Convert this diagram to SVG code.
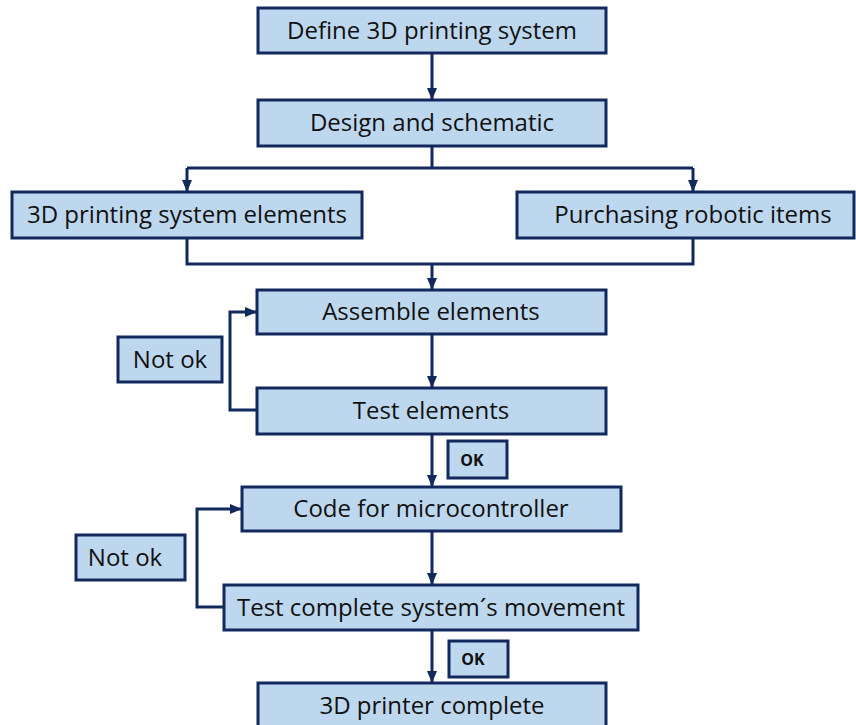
<svg xmlns="http://www.w3.org/2000/svg" width="856" height="725" viewBox="0 0 856 725">
<style>
.box{fill:#BDD7EE;stroke:#12295E;stroke-width:3}
.t{font-family:"Open Sans","Noto Sans",sans-serif;font-size:24px;fill:#111;text-anchor:middle}
.ok{font-family:"Open Sans","Liberation Sans",sans-serif;font-size:16px;font-weight:bold;fill:#111;text-anchor:middle}
.c{fill:none;stroke:#12295E;stroke-width:3}
</style>
<defs>
<marker id="ah" markerUnits="userSpaceOnUse" markerWidth="12" markerHeight="12" refX="12" refY="5" orient="auto" viewBox="0 0 12 10">
<path d="M0,0 L12,5 L0,10 z" fill="#12295E"/>
</marker>
</defs>
<g id="connectors">
<path class="c" d="M432,53 V100" marker-end="url(#ah)"/>
<path class="c" d="M432,146 V168"/>
<path class="c" d="M187,168 H693"/>
<path class="c" d="M187,168 V192" marker-end="url(#ah)"/>
<path class="c" d="M693,168 V192" marker-end="url(#ah)"/>
<path class="c" d="M187,238 V264 H693 V238"/>
<path class="c" d="M432,264 V290" marker-end="url(#ah)"/>
<path class="c" d="M432,334 V388" marker-end="url(#ah)"/>
<path class="c" d="M257,410 H230 V312 H257" marker-end="url(#ah)"/>
<path class="c" d="M432,434 V487" marker-end="url(#ah)"/>
<path class="c" d="M432,531 V585" marker-end="url(#ah)"/>
<path class="c" d="M224,607 H197 V509 H242" marker-end="url(#ah)"/>
<path class="c" d="M432,630 V683" marker-end="url(#ah)"/>
</g>
<g id="n1"><rect class="box" x="258" y="8" width="348" height="45"/><text class="t" x="432" y="39">Define 3D printing system</text></g>
<g id="n2"><rect class="box" x="258" y="100" width="348" height="46"/><text class="t" x="432" y="131">Design and schematic</text></g>
<g id="n3"><rect class="box" x="12" y="192" width="350" height="46"/><text class="t" x="187" y="223">3D printing system elements</text></g>
<g id="n4"><rect class="box" x="517" y="192" width="337" height="46"/><text class="t" x="693" y="223">Purchasing robotic items</text></g>
<g id="n5"><rect class="box" x="257" y="290" width="349" height="44"/><text class="t" x="431" y="320">Assemble elements</text></g>
<g id="n6"><rect class="box" x="118" y="337" width="104" height="45"/><text class="t" x="170" y="368">Not ok</text></g>
<g id="n7"><rect class="box" x="257" y="388" width="349" height="46"/><text class="t" x="431" y="419">Test elements</text></g>
<g id="n8"><rect class="box" x="448" y="441" width="59" height="37"/><text class="ok" x="472" y="466">OK</text></g>
<g id="n9"><rect class="box" x="242" y="487" width="379" height="44"/><text class="t" x="431" y="517">Code for microcontroller</text></g>
<g id="n10"><rect class="box" x="76" y="535" width="109" height="45"/><text class="t" x="125" y="566">Not ok</text></g>
<g id="n11"><rect class="box" x="224" y="585" width="414" height="45"/><text class="t" x="431" y="616">Test complete system´s movement</text></g>
<g id="n12"><rect class="box" x="449" y="641" width="59" height="36"/><text class="ok" x="473" y="665">OK</text></g>
<g id="n13"><rect class="box" x="258" y="683" width="348" height="50"/><text class="t" x="432" y="714">3D printer complete</text></g>
</svg>
